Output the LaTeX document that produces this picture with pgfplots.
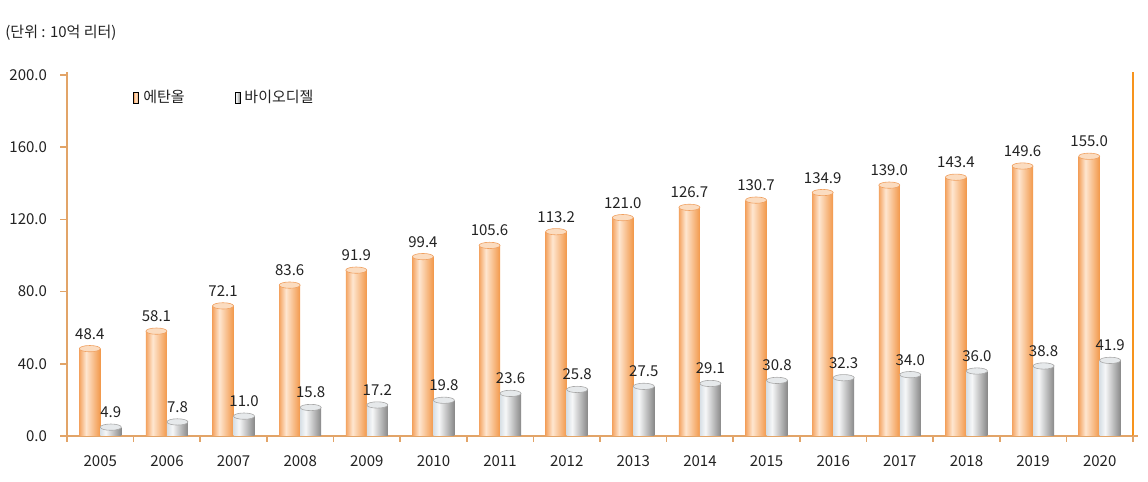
\documentclass[border=0pt]{standalone}
\usepackage{fontspec}
\setmainfont{Noto Sans CJK KR}
\usepackage{pgfplots}
\pgfplotsset{compat=1.18}
\usepackage{pgfplotstable}

\definecolor{axcol}{HTML}{E2A468}
\definecolor{axright}{HTML}{F7941D}
\definecolor{ethL}{HTML}{F4A462}
\definecolor{ethH}{HTML}{FEE6D0}
\definecolor{ethR}{HTML}{F2984A}
\definecolor{ethcap}{HTML}{FBDCC0}
\definecolor{ethedge}{HTML}{F0A060}
\definecolor{bioL}{HTML}{D8E0E6}
\definecolor{bioH}{HTML}{F6F7F8}
\definecolor{bioR}{HTML}{888888}
\definecolor{biocap}{HTML}{E6E9EB}
\definecolor{bioedge}{HTML}{A8A8A8}
\definecolor{txt}{HTML}{222222}

\pgfdeclarehorizontalshading{ethshade}{100bp}{color(0bp)=(ethL); color(25bp)=(ethL); color(41bp)=(ethH); color(75bp)=(ethR); color(100bp)=(ethR)}
\pgfdeclarehorizontalshading{bioshade}{100bp}{color(0bp)=(bioL); color(25bp)=(bioL); color(38bp)=(bioH); color(75bp)=(bioR); color(100bp)=(bioR)}

\pgfplotstableread{
x eth bio
0 48.4 4.9
1 58.1 7.8
2 72.1 11.0
3 83.6 15.8
4 91.9 17.2
5 99.4 19.8
6 105.6 23.6
7 113.2 25.8
8 121.0 27.5
9 126.7 29.1
10 130.7 30.8
11 134.9 32.3
12 139.0 34.0
13 143.4 36.0
14 149.6 38.8
15 155.0 41.9
}\data

\newcommand\fs{\fontsize{7.5}{9}\selectfont}

\begin{document}
\begin{tikzpicture}
\useasboundingbox (0,0) rectangle (574pt,241pt);
\node[anchor=west, font=\fs, text=txt, inner sep=0pt] at (2.5pt,224.5pt) {(단위 : 10억 리터)};
\begin{axis}[
  at={(33.5pt,23pt)}, anchor=south west,
  width=533pt, height=182pt, scale only axis,
  xmin=-0.5, xmax=15.5, ymin=0, ymax=201.7,
  axis x line*=bottom, axis y line*=left,
  axis line style={draw=axcol, line width=0.9pt, -},
  clip=false,
  ytick={0,40,...,200},
  xtick={0,...,15},
  xticklabels={2005,2006,2007,2008,2009,2010,2011,2012,2013,2014,2015,2016,2017,2018,2019,2020},
  minor xtick={-0.5,0.5,...,15.5},
  tick align=outside,
  major tick length=3.5pt,
  minor tick length=3pt,
  tick style={draw=axcol, line width=0.8pt},
  major x tick style={draw=none},
  ticklabel style={font=\fs, text=txt},
  yticklabel style={xshift=-3pt},
  xticklabel style={yshift=-3pt},
  legend style={at={(0.062,0.929)}, anchor=west, draw=none, fill=none,
    legend columns=2, font=\fs, text=txt, inner sep=0pt,
    /tikz/every even column/.append style={column sep=23pt}},
  ethbar/.style={ybar, bar width=10.5pt, bar shift=-5.25pt, draw=none, shading=ethshade},
  biobar/.style={ybar, bar width=10.5pt, bar shift=5.25pt, draw=none, shading=bioshade},
  /pgf/number format/.cd, fixed, zerofill, precision=1, assume math mode=true,
]
\addlegendimage{legend image code/.code={\path[shading=ethshade] (0pt,-2.75pt) rectangle (2.5pt,2.75pt);}}
\addlegendentry{에탄올}
\addlegendimage{legend image code/.code={\path[shading=bioshade] (0pt,-2.75pt) rectangle (2.5pt,2.75pt);}}
\addlegendentry{바이오디젤}

\pgfplotsinvokeforeach{0,...,15}{
  \addplot[ethbar, forget plot, restrict x to domain=#1:#1] table[x=x, y=eth]{\data};
  \addplot[biobar, forget plot, restrict x to domain=#1:#1] table[x=x, y=bio]{\data};
}

\addplot[forget plot, only marks, mark=*, mark size=5.25pt,
  mark options={yscale=0.3, fill=ethcap, draw=ethedge, line width=0.3pt},
  nodes near coords={\pgfmathprintnumber[fixed,zerofill,precision=1]{\pgfplotspointmeta}},
  every node near coord/.append style={font=\fs, text=txt, anchor=south, inner sep=0pt, yshift=4.5pt}]
  table[x expr=\thisrow{x}-0.1576, y=eth]{\data};
\addplot[forget plot, only marks, mark=*, mark size=5.25pt,
  mark options={yscale=0.3, fill=biocap, draw=bioedge, line width=0.3pt},
  nodes near coords={\pgfmathprintnumber[fixed,zerofill,precision=1]{\pgfplotspointmeta}},
  every node near coord/.append style={font=\fs, text=txt, anchor=south, inner sep=0pt, yshift=4.5pt}]
  table[x expr=\thisrow{x}+0.1576, y=bio]{\data};

\draw[axright, line width=0.9pt] (rel axis cs:1,0) -- (rel axis cs:1,1);
\draw[axcol, line width=0.9pt] (rel axis cs:1,0) -- ([xshift=2.5pt]rel axis cs:1,0);
\end{axis}
\end{tikzpicture}
\end{document}
